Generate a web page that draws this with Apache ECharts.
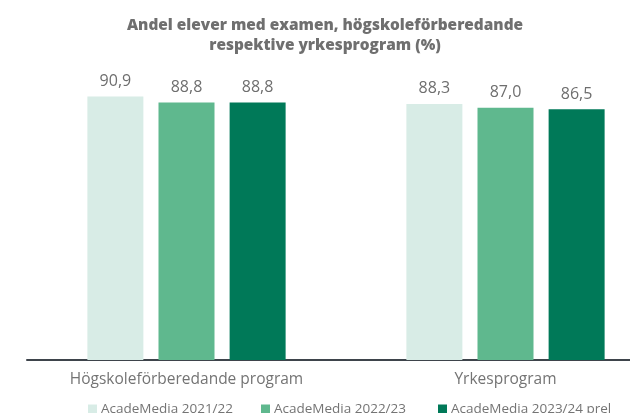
<!DOCTYPE html>
<html>
<head>
<meta charset="utf-8">
<script src="https://cdn.jsdelivr.net/npm/echarts@6/dist/echarts.min.js"></script>
<style>
  html, body { margin: 0; padding: 0; background: #fff; }
  #chart { width: 630px; height: 413px; }
</style>
</head>
<body>
<div id="chart"></div>
<script>
const categories = ["Högskoleförberedande program", "Yrkesprogram"];
const seriesNames = ["AcadeMedia 2021/22", "AcadeMedia 2022/23", "AcadeMedia 2023/24 prel"];
const values2122 = [90.9, 88.3];
const values2223 = [88.8, 87.0];
const values2324 = [88.8, 86.5];
const colors = ["#d8ece6", "#5fb88e", "#007958"];
const legendLeft = [83, 256, 433];

const chart = echarts.init(document.getElementById("chart"));

const allValues = [values2122, values2223, values2324];
const series = seriesNames.map((name, i) => ({
    name: name,
    type: "bar",
    data: allValues[i],
    barWidth: 56,
    barGap: "27%",
    itemStyle: { color: colors[i] },
    label: {
        show: true,
        position: "top",
        distance: 7,
        color: "#6e6e6e",
        fontSize: 16,
        fontFamily: "Open Sans",
        formatter: (p) => p.value.toFixed(1).replace(".", ",")
    }
}));

// one legend per item so each sits where it does in the picture
const legends = seriesNames.map((name, i) => ({
    data: [name],
    bottom: -8,
    left: legendLeft[i],
    itemWidth: 9,
    itemHeight: 9,
    icon: "rect",
    textStyle: { color: "#747474", fontSize: 13.5, fontFamily: "Open Sans", padding: [0, 0, 0, -1] }
}));

chart.setOption({
    animation: false,
    title: {
        text: "Andel elever med examen, högskoleförberedande\nrespektive yrkesprogram (%)",
        left: 320,
        textAlign: "center",
        top: 11,
        textStyle: {
            fontFamily: "Open Sans",
            fontWeight: 800,
            fontSize: 15.4,
            lineHeight: 20,
            color: "#6f6f6f"
        }
    },
    legend: legends,
    grid: { left: 27, top: 70, bottom: 53, width: 638, outerBoundsMode: "none" },
    xAxis: {
        type: "category",
        data: categories,
        axisLine: { lineStyle: { color: "#3e444b", width: 2 } },
        axisTick: { show: false },
        axisLabel: { color: "#747474", fontSize: 15.5, fontFamily: "Open Sans", margin: 12 }
    },
    yAxis: {
        type: "value",
        min: 0,
        max: 100,
        show: false
    },
    series: series
});
</script>
</body>
</html>
